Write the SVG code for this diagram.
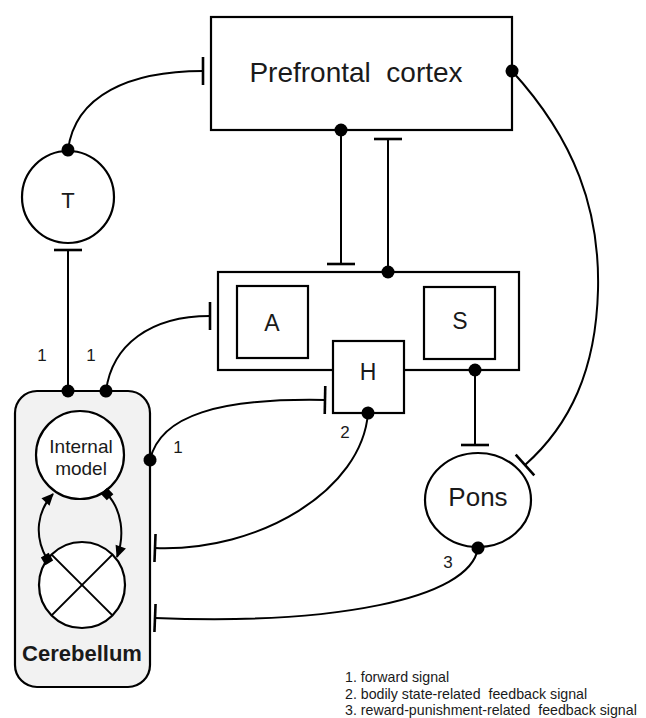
<svg xmlns="http://www.w3.org/2000/svg" width="646" height="718" viewBox="0 0 646 718">
<style>
  .n { fill: #fff; stroke: #000; stroke-width: 2.2; }
  .c { fill: none; stroke: #000; stroke-width: 2; }
  .t { font-family: "Liberation Sans", Arial, sans-serif; fill: #1a1a1a; text-anchor: middle; }
  .lbl { font-family: "Liberation Sans", Arial, sans-serif; fill: #1a1a1a; font-size: 17px; text-anchor: middle; }
  .leg { font-family: "Liberation Sans", Arial, sans-serif; fill: #1a1a1a; font-size: 14.2px; white-space: pre; }
</style>
<defs>
  <marker id="bar" markerUnits="userSpaceOnUse" viewBox="-3 -16 6 32" refX="0" refY="0" markerWidth="6" markerHeight="32" orient="auto">
    <line x1="0" y1="-14" x2="0" y2="14" stroke="#000" stroke-width="2.6"/>
  </marker>
  <marker id="dot" markerUnits="userSpaceOnUse" viewBox="-8 -8 16 16" refX="0" refY="0" markerWidth="16" markerHeight="16" orient="auto">
    <circle cx="0" cy="0" r="6.5" fill="#000"/>
  </marker>
  <marker id="arr" markerUnits="userSpaceOnUse" viewBox="-12 -7 14 14" refX="0" refY="0" markerWidth="14" markerHeight="14" orient="auto">
    <path d="M-11,-5.5 L1,0 L-11,5.5 Z" fill="#000"/>
  </marker>
  <marker id="sq" markerUnits="userSpaceOnUse" viewBox="-6 -6 12 12" refX="0" refY="0" markerWidth="12" markerHeight="12" orient="auto">
    <rect x="-4.5" y="-4.5" width="9" height="9" fill="#000"/>
  </marker>
</defs>

<g id="cerebellum">
  <rect x="15" y="391" width="135" height="296" rx="22" ry="22" fill="#f2f2f2" stroke="#000" stroke-width="2.2"/>
  <text class="t" x="82" y="661" font-size="22" font-weight="bold">Cerebellum</text>
</g>
<g id="internal-model">
  <circle class="n" cx="80" cy="455" r="44"/>
  <text class="t" x="81" y="453" font-size="19">Internal</text>
  <text class="t" x="81" y="475" font-size="19">model</text>
</g>
<g id="comparator">
  <circle class="n" cx="82" cy="585" r="43"/>
  <line class="c" x1="51.6" y1="554.6" x2="112.4" y2="615.4"/>
  <line class="c" x1="112.4" y1="554.6" x2="51.6" y2="615.4"/>
</g>

<g id="prefrontal">
  <rect class="n" x="211" y="17" width="301" height="113"/>
  <text class="t" x="356" y="82" font-size="28" style="white-space:pre">Prefrontal  cortex</text>
</g>
<g id="T">
  <circle class="n" cx="68" cy="197" r="46"/>
  <text class="t" x="68" y="208" font-size="22">T</text>
</g>
<g id="central-box">
  <rect class="n" x="218" y="272" width="301" height="98"/>
</g>
<g id="A">
  <rect class="n" x="237" y="286" width="71" height="72"/>
  <text class="t" x="272" y="331" font-size="23">A</text>
</g>
<g id="S">
  <rect class="n" x="424" y="287" width="71" height="72"/>
  <text class="t" x="460" y="329" font-size="23">S</text>
</g>
<g id="H">
  <rect class="n" x="333" y="341" width="71" height="72"/>
  <text class="t" x="368" y="380" font-size="23">H</text>
</g>
<g id="Pons">
  <ellipse class="n" cx="478" cy="500" rx="53" ry="47"/>
  <text class="t" x="478" y="506" font-size="26">Pons</text>
</g>

<g id="connectors">
  <path class="c" d="M68,150 C75,95 130,71 203,71" marker-start="url(#dot)" marker-end="url(#bar)"/>
  <path class="c" d="M68,391 L68,250" marker-start="url(#dot)" marker-end="url(#bar)"/>
  <path class="c" d="M106,391 C112,345 150,316 210,316" marker-start="url(#dot)" marker-end="url(#bar)"/>
  <path class="c" d="M341,130 L341,264" marker-start="url(#dot)" marker-end="url(#bar)"/>
  <path class="c" d="M388,272 L388,139" marker-start="url(#dot)" marker-end="url(#bar)"/>
  <path class="c" d="M150,460 C160,415 220,398 325,400" marker-start="url(#dot)" marker-end="url(#bar)"/>
  <path class="c" d="M368,413 C362,490 260,552 155,548" marker-start="url(#dot)" marker-end="url(#bar)"/>
  <path class="c" d="M475,370 L475,445" marker-start="url(#dot)" marker-end="url(#bar)"/>
  <path class="c" d="M512,71 C575,140 600,210 598,290 C596,370 570,425 525,465" marker-start="url(#dot)" marker-end="url(#bar)"/>
  <path class="c" d="M478,548 C470,600 330,625 155,618" marker-start="url(#dot)" marker-end="url(#bar)"/>
  <path class="c" d="M47,559 C33,535 38,510 53,494" stroke-width="1.6" marker-start="url(#sq)" marker-end="url(#arr)"/>
  <path class="c" d="M107,494 C122,510 125,535 117,557" stroke-width="1.6" marker-start="url(#sq)" marker-end="url(#arr)"/>
</g>

<g id="labels">
  <text class="lbl" x="42" y="361">1</text>
  <text class="lbl" x="91" y="361">1</text>
  <text class="lbl" x="178" y="453">1</text>
  <text class="lbl" x="345" y="438">2</text>
  <text class="lbl" x="448" y="568">3</text>
</g>

<g id="legend">
  <text class="leg" x="345" y="682">1. forward signal</text>
  <text class="leg" x="345" y="699">2. bodily state-related  feedback signal</text>
  <text class="leg" x="345" y="715">3. reward-punishment-related  feedback signal</text>
</g>
</svg>
